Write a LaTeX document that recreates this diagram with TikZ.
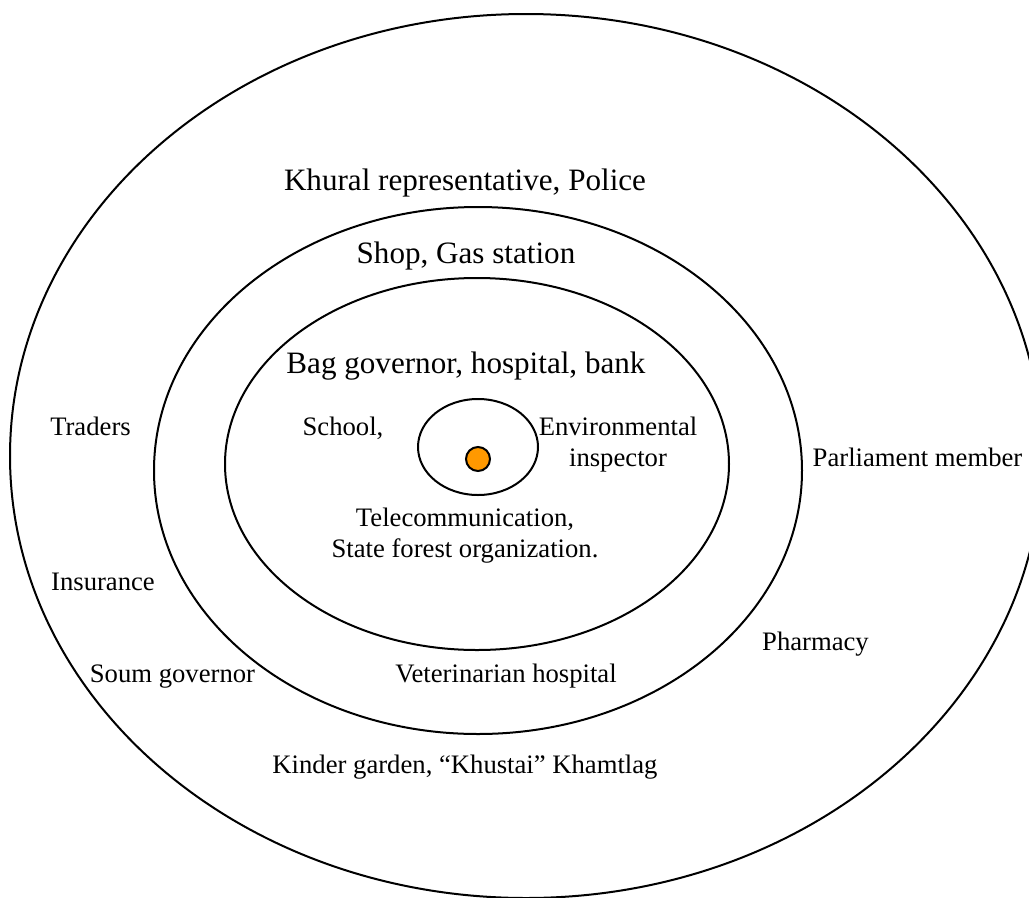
\documentclass[tikz,border=0pt]{standalone}
\usepackage{fontspec}
\setmainfont{Liberation Serif}
\definecolor{dotorange}{RGB}{255,153,0}
\tikzset{
  ring/.style={line width=0.9pt},
  lbl/.style={font=\fontsize{12}{14}\selectfont, inner sep=0pt, anchor=base},
  biglbl/.style={lbl, font=\fontsize{14}{17}\selectfont},
  twolbl/.style={lbl, anchor=center, align=center}
}
\begin{document}
\begin{tikzpicture}[x=0.45pt, y=-0.45pt]
        \useasboundingbox (0, 0) rectangle (1029, 898);

        % rings
        \draw[ring] (526, 456) ellipse [x radius=516, y radius=442];
        \draw[ring] (478, 470.5) ellipse [x radius=324, y radius=263.5];
        \draw[ring] (477, 464) ellipse [x radius=252, y radius=186];
        \draw[ring] (478, 447) ellipse [x radius=60, y radius=48];
        \filldraw[ring, fill=dotorange] (478, 459) circle [radius=12];

        % labels
        \node[biglbl] (khural) at (465, 190) {Khural representative, Police};
        \node[biglbl] (shop) at (466, 263) {Shop, Gas station};
        \node[biglbl] (bag) at (466, 373) {Bag governor, hospital, bank};

        \node[lbl] (school) at (343, 435) {School,};
        \node[twolbl] (envir) at (618, 445) {Environmental\\inspector};
        \node[twolbl] (telecom) at (465, 536) {Telecommunication,\\State forest organization.};

        \node[lbl] (traders) at (90.5, 435) {Traders};
        \node[lbl] (insur) at (103, 590) {Insurance};
        \node[lbl] (soum) at (172.5, 682) {Soum governor};
        \node[lbl] (parl) at (917.5, 466) {Parliament member};
        \node[lbl] (pharm) at (815.5, 650) {Pharmacy};
        \node[lbl] (vet) at (506, 682) {Veterinarian hospital};
        \node[lbl] (kinder) at (465, 773) {Kinder garden, “Khustai” Khamtlag};

\end{tikzpicture}
\end{document}
